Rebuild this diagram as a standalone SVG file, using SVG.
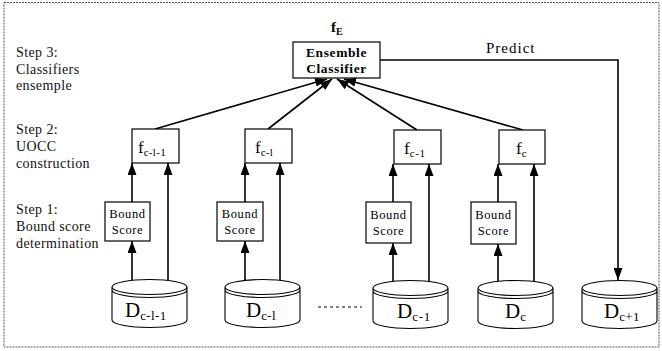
<svg xmlns="http://www.w3.org/2000/svg" width="662" height="351" viewBox="0 0 662 351">
  <style>
    .box { fill: #fff; stroke: #000; stroke-width: 1.2; }
    .cyl { fill: #fff; stroke: #000; stroke-width: 1.1; }
    .edge { fill: none; stroke: #000; stroke-width: 1.6; }
    .step { font-family: "Liberation Serif", serif; font-size: 14px; letter-spacing: 0.4px; fill: #111; }
    .lbl { font-family: "Liberation Serif", serif; fill: #000; }
    .bs { font-family: "Liberation Serif", serif; font-size: 12.5px; letter-spacing: 0.6px; fill: #000; text-anchor: middle; }
  </style>
  <defs>
    <marker id="arrow" viewBox="0 0 12 9" refX="12" refY="4.5" markerWidth="12" markerHeight="9" markerUnits="userSpaceOnUse" orient="auto">
      <path d="M0,0 L12,4.5 L0,9 z" fill="#000"/>
    </marker>
  </defs>

  <!-- outer frame -->
  <rect x="4" y="2.5" width="655" height="344.5" fill="none" stroke="#555" stroke-width="1" stroke-dasharray="2 1"/>

  <!-- step captions -->
  <g id="captions">
    <text class="step" x="16" y="57">Step 3:</text>
    <text class="step" x="16" y="74">Classifiers</text>
    <text class="step" x="16" y="90">ensemple</text>
    <text class="step" x="16" y="134">Step 2:</text>
    <text class="step" x="16" y="151">UOCC</text>
    <text class="step" x="16" y="168">construction</text>
    <text class="step" x="16" y="214">Step 1:</text>
    <text class="step" x="16" y="231">Bound score</text>
    <text class="step" x="16" y="248">determination</text>
  </g>

  <!-- connectors -->
  <g id="connectors" class="edge">
    <!-- UOCC classifiers to ensemble -->
    <line x1="155" y1="129" x2="327" y2="79" marker-end="url(#arrow)"/>
    <line x1="268" y1="129" x2="332" y2="79" marker-end="url(#arrow)"/>
    <line x1="417" y1="130" x2="337" y2="79" marker-end="url(#arrow)"/>
    <line x1="523" y1="130" x2="344" y2="79" marker-end="url(#arrow)"/>
    <!-- group 1 -->
    <line x1="132" y1="202" x2="132" y2="163" marker-end="url(#arrow)"/>
    <line x1="168" y1="280" x2="168" y2="163" marker-end="url(#arrow)"/>
    <line x1="132" y1="280" x2="132" y2="241" marker-end="url(#arrow)"/>
    <!-- group 2 -->
    <line x1="245" y1="202" x2="245" y2="163" marker-end="url(#arrow)"/>
    <line x1="280" y1="280" x2="280" y2="163" marker-end="url(#arrow)"/>
    <line x1="245" y1="280" x2="245" y2="241" marker-end="url(#arrow)"/>
    <!-- group 3 -->
    <line x1="393" y1="202" x2="393" y2="164" marker-end="url(#arrow)"/>
    <line x1="429" y1="281" x2="429" y2="164" marker-end="url(#arrow)"/>
    <line x1="393" y1="281" x2="393" y2="243" marker-end="url(#arrow)"/>
    <!-- group 4 -->
    <line x1="498" y1="202" x2="498" y2="164" marker-end="url(#arrow)"/>
    <line x1="534" y1="281" x2="534" y2="164" marker-end="url(#arrow)"/>
    <line x1="498" y1="281" x2="498" y2="244" marker-end="url(#arrow)"/>
    <!-- prediction path -->
    <polyline points="380,60 618,60 618,280" marker-end="url(#arrow)"/>
  </g>
  <text class="lbl" x="486" y="53" font-size="15" letter-spacing="1">Predict</text>

  <!-- ensemble classifier -->
  <g id="ensemble">
    <rect class="box" x="293" y="42" width="87" height="36"/>
    <text class="lbl" x="336.5" y="57" font-size="13.5" font-weight="bold" letter-spacing="0.6" text-anchor="middle">Ensemble</text>
    <text class="lbl" x="336.5" y="73" font-size="13.5" font-weight="bold" letter-spacing="0.6" text-anchor="middle">Classifier</text>
    <text class="lbl" x="331" y="32" font-size="15" font-weight="bold">f<tspan font-size="10" dy="3">E</tspan></text>
  </g>

  <!-- UOCC classifiers -->
  <g id="f1">
    <rect class="box" x="132" y="129" width="47" height="34"/>
    <text class="lbl" x="138" y="153" font-size="17">f<tspan font-size="11" dy="3" letter-spacing="0.3">c-l-1</tspan></text>
  </g>
  <g id="f2">
    <rect class="box" x="245" y="129" width="47" height="34"/>
    <text class="lbl" x="255" y="153" font-size="17">f<tspan font-size="11" dy="3" letter-spacing="0.3">c-l</tspan></text>
  </g>
  <g id="f3">
    <rect class="box" x="394" y="130" width="47" height="34"/>
    <text class="lbl" x="404" y="154" font-size="17">f<tspan font-size="11" dy="3" letter-spacing="0.6">c-1</tspan></text>
  </g>
  <g id="f4">
    <rect class="box" x="499" y="130" width="46" height="34"/>
    <text class="lbl" x="516" y="154" font-size="17">f<tspan font-size="11" dy="3">c</tspan></text>
  </g>

  <!-- bound score modules -->
  <g id="bs1">
    <rect class="box" x="105" y="202" width="45" height="39"/>
    <text class="bs" x="127.5" y="218">Bound</text>
    <text class="bs" x="127.5" y="234">Score</text>
  </g>
  <g id="bs2">
    <rect class="box" x="217" y="202" width="46" height="39"/>
    <text class="bs" x="240" y="218">Bound</text>
    <text class="bs" x="240" y="234">Score</text>
  </g>
  <g id="bs3">
    <rect class="box" x="366" y="202" width="45" height="41"/>
    <text class="bs" x="388.5" y="219">Bound</text>
    <text class="bs" x="388.5" y="235">Score</text>
  </g>
  <g id="bs4">
    <rect class="box" x="471" y="202" width="45" height="42"/>
    <text class="bs" x="493.5" y="219">Bound</text>
    <text class="bs" x="493.5" y="235">Score</text>
  </g>

  <!-- data chunks -->
  <g id="d1">
    <path class="cyl" d="M112,287 V320 A37.5,7.5 0 0 0 187,320 V287 A37.5,7.5 0 0 0 112,287 A37.5,7.5 0 0 0 187,287 M112,290 A37.5,7.5 0 0 0 187,290"/>
    <text class="lbl" x="125" y="317" font-size="21">D<tspan font-size="13" dy="3" letter-spacing="0.4">c-l-1</tspan></text>
  </g>
  <g id="d2">
    <path class="cyl" d="M225,287 V320 A37.5,7.5 0 0 0 300,320 V287 A37.5,7.5 0 0 0 225,287 A37.5,7.5 0 0 0 300,287 M225,290 A37.5,7.5 0 0 0 300,290"/>
    <text class="lbl" x="246" y="317" font-size="21">D<tspan font-size="13" dy="3" letter-spacing="0.4">c-l</tspan></text>
  </g>
  <line x1="318" y1="307" x2="362" y2="307" stroke="#000" stroke-width="1.2" stroke-dasharray="3 3"/>
  <g id="d3">
    <path class="cyl" d="M373,288 V321 A37.5,7.5 0 0 0 448,321 V288 A37.5,7.5 0 0 0 373,288 A37.5,7.5 0 0 0 448,288 M373,291 A37.5,7.5 0 0 0 448,291"/>
    <text class="lbl" x="397" y="318" font-size="21">D<tspan font-size="13" dy="3" letter-spacing="0.8">c-1</tspan></text>
  </g>
  <g id="d4">
    <path class="cyl" d="M478,288 V321 A37.5,7.5 0 0 0 553,321 V288 A37.5,7.5 0 0 0 478,288 A37.5,7.5 0 0 0 553,288 M478,291 A37.5,7.5 0 0 0 553,291"/>
    <text class="lbl" x="505" y="318" font-size="21">D<tspan font-size="13" dy="3">c</tspan></text>
  </g>
  <g id="d5">
    <path class="cyl" d="M582,288 V321 A37.5,7.5 0 0 0 657,321 V288 A37.5,7.5 0 0 0 582,288 A37.5,7.5 0 0 0 657,288 M582,291 A37.5,7.5 0 0 0 657,291"/>
    <text class="lbl" x="604" y="318" font-size="21">D<tspan font-size="13" dy="3" letter-spacing="0.4">c+1</tspan></text>
  </g>
</svg>
